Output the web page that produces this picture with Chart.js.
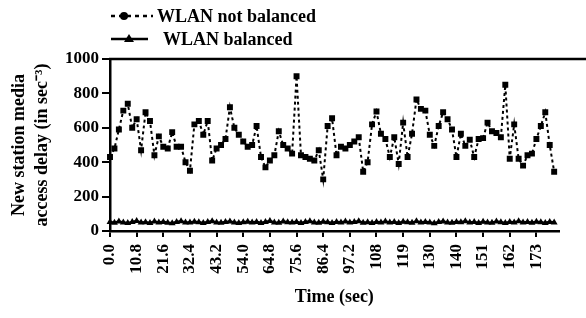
<!DOCTYPE html>
<html>
<head>
<meta charset="utf-8">
<script src="https://cdn.jsdelivr.net/npm/chart.js@4.4.0/dist/chart.umd.min.js"></script>
<style>
  body { margin: 0; background: #fff; }
  #wrap { width: 586px; height: 318px; }
</style>
</head>
<body>
<div id="wrap"><canvas id="myChart" width="586" height="318"></canvas></div>
<script>
// series, one sample every 1.8 sec
var stepSec = 1.8;
var notBalanced = [
  430, 480, 590, 700, 740, 600, 650, 470, 690, 640,
  440, 550, 490, 480, 575, 490, 490, 400, 350, 620,
  640, 560, 640, 410, 480, 500, 535, 720, 600, 560,
  520, 490, 500, 610, 430, 370, 410, 440, 580, 500,
  480, 450, 900, 440, 430, 420, 410, 470, 300, 610,
  655, 440, 490, 480, 500, 520, 545, 345, 400, 620,
  695, 565, 535, 430, 545, 390, 630, 430, 565, 765,
  710, 700, 560, 495, 610, 690, 650, 590, 430, 565,
  495, 530, 430, 535, 540, 630, 580, 570, 545, 850,
  420, 620, 420, 380, 440, 450, 535, 610, 690, 500,
  345, null
];
var balanced = [
  52, 48, 55, 50, 46, 53, 58, 49, 51, 47,
  55, 50, 53, 48, 45, 52, 57, 50, 49, 54,
  51, 47, 53, 56, 50, 48, 52, 55, 49, 46,
  51, 54, 50, 53, 47, 52, 58, 50, 48, 55,
  51, 49, 53, 46, 52, 56, 50, 48, 54, 51,
  47, 53, 50, 55, 49, 52, 57, 48, 51, 46,
  53, 50, 55, 49, 52, 47, 54, 51, 48, 56,
  50, 53, 49, 45, 52, 55, 50, 48, 53, 51,
  57, 49, 52, 47, 54, 50, 48, 55, 51, 46,
  53, 50, 56, 49, 52, 48, 54, 51, 47, 53,
  50, null
];
// labels printed under every 6th sample
var tickLabels = ["0.0", "10.8", "21.6", "32.4", "43.2", "54.0", "64.8", "75.6", "86.4",
  "97.2", "108", "119", "130", "140", "151", "162", "173"];
var seriesNames = ["WLAN not balanced", "WLAN balanced"];

var times = [];
for (var i = 0; i < notBalanced.length; i++) {
  times.push((i * stepSec).toFixed(1));
}

Chart.defaults.font.family = "'Liberation Serif', 'Times New Roman', serif";
Chart.defaults.font.weight = "bold";
Chart.defaults.color = "#000";

// legend drawn by hand (line + marker), plus the top frame line
var paperLegend = {
  id: "paperLegend",
  afterDraw: function (chart) {
    var ctx = chart.ctx;
    var area = chart.chartArea;
    ctx.save();
    ctx.strokeStyle = "#000";
    ctx.fillStyle = "#000";

    ctx.lineWidth = 2.5;
    ctx.beginPath();
    ctx.moveTo(area.left - 1, area.top);
    ctx.lineTo(chart.width, area.top);
    ctx.stroke();

    ctx.font = "bold 18px 'Liberation Serif', serif";
    ctx.textBaseline = "middle";

    // row 1
    ctx.lineWidth = 2.5;
    ctx.setLineDash([4, 4]);
    ctx.beginPath();
    ctx.moveTo(111, 16);
    ctx.lineTo(153, 16);
    ctx.stroke();
    ctx.setLineDash([]);
    ctx.beginPath();
    ctx.arc(124, 16, 4, 0, Math.PI * 2);
    ctx.fill();
    ctx.fillText(seriesNames[0], 157, 17);

    // row 2
    ctx.beginPath();
    ctx.moveTo(111, 39);
    ctx.lineTo(148, 39);
    ctx.stroke();
    ctx.beginPath();
    ctx.moveTo(129, 34);
    ctx.lineTo(134, 42);
    ctx.lineTo(124, 42);
    ctx.closePath();
    ctx.fill();
    ctx.fillText(seriesNames[1], 163, 40);
    ctx.restore();
  }
};

var ctx = document.getElementById("myChart").getContext("2d");
var myChart = new Chart(ctx, {
  type: "line",
  data: {
    labels: times,
    datasets: [
      {
        label: seriesNames[0],
        data: notBalanced,
        borderColor: "#000",
        backgroundColor: "#000",
        borderWidth: 2,
        borderDash: [3, 3],
        pointStyle: "rect",
        pointRadius: 4.2,
        pointBorderWidth: 0,
        tension: 0,
      },
      {
        label: seriesNames[1],
        data: balanced,
        borderColor: "#000",
        backgroundColor: "#000",
        borderWidth: 2.5,
        pointStyle: "triangle",
        pointRadius: 4,
        pointBorderWidth: 0,
        tension: 0,
      },
    ],
  },
  options: {
    responsive: false,
    animation: false,
    devicePixelRatio: 1,
    layout: { padding: { top: 59, right: 2, left: 0, bottom: 0 } },
    plugins: {
      legend: { display: false },
      tooltip: { enabled: false },
    },
    scales: {
      x: {
        type: "category",
        offset: false,
        afterFit: function (scale) { scale.height = 87; },
        border: { display: true, color: "#000", width: 2.5 },
        grid: {
          drawOnChartArea: false,
          drawTicks: true,
          tickLength: 6,
          lineWidth: 2,
          color: function (c) { return c.index % 6 === 0 ? "#000" : "rgba(0,0,0,0)"; },
        },
        ticks: {
          autoSkip: false,
          maxRotation: 90,
          minRotation: 90,
          padding: 7,
          font: { size: 17, weight: "bold" },
          callback: function (value, index) {
            return index % 6 === 0 ? tickLabels[index / 6] : "";
          },
        },
        title: {
          display: true,
          text: "Time (sec)",
          font: { size: 18, weight: "bold" },
          padding: { top: 0, bottom: 10 },
        },
      },
      y: {
        min: 0,
        max: 1000,
        afterFit: function (scale) { scale.width = 110; },
        border: { display: true, color: "#000", width: 2.5 },
        grid: {
          drawOnChartArea: false,
          drawTicks: true,
          tickLength: 8,
          lineWidth: 2,
          color: "#000",
        },
        ticks: {
          stepSize: 200,
          padding: 3,
          font: { size: 17, weight: "bold" },
          callback: function (value) { return String(value); },
        },
        title: {
          display: true,
          text: ["New station media", "access delay (in sec\u207B\u00B3)"],
          font: { size: 18, weight: "bold", lineHeight: 1.28 },
          padding: { top: 8, bottom: 0 },
        },
      },
    },
  },
  plugins: [paperLegend],
});
</script>
</body>
</html>
